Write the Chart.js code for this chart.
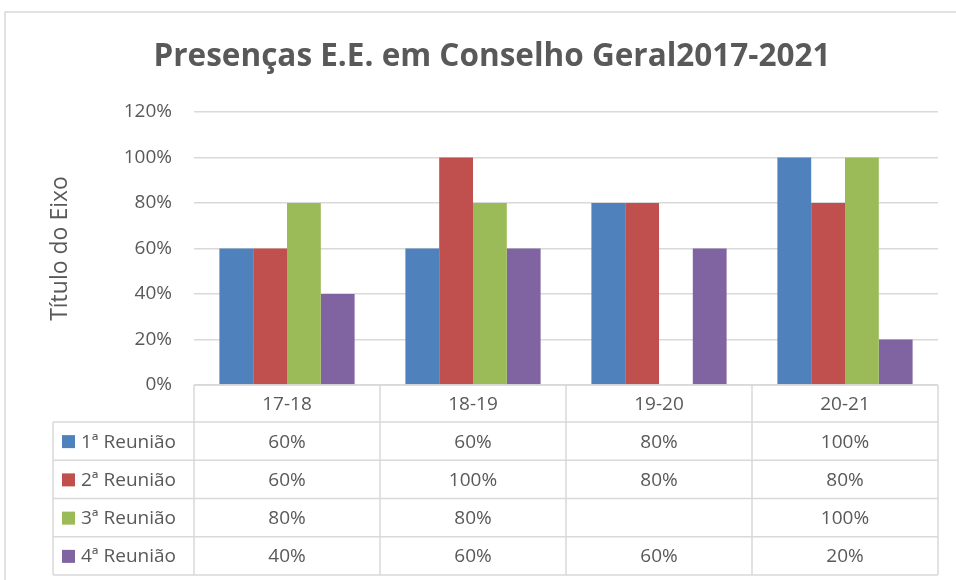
<!DOCTYPE html>
<html>
<head>
<meta charset="utf-8">
<script src="https://cdn.jsdelivr.net/npm/chart.js@4.4.1/dist/chart.umd.min.js"></script>
<style>
  html, body { margin: 0; padding: 0; background: #fff; }
  #wrap { position: relative; width: 956px; height: 580px; }
</style>
</head>
<body>
<div id="wrap"><canvas id="chart" width="956" height="580"></canvas></div>
<script>
// dados do gráfico
const categorias = ['17-18', '18-19', '19-20', '20-21'];
const reuniao1 = [60, 60, 80, 100];
const reuniao2 = [60, 100, 80, 80];
const reuniao3 = [80, 80, null, 100];
const reuniao4 = [40, 60, 60, 20];
const nomesSeries = ['1ª Reunião', '2ª Reunião', '3ª Reunião', '4ª Reunião'];
const coresSeries = ['#4F81BD', '#C0504D', '#9BBB59', '#8064A2'];
const ticksY = [0, 20, 40, 60, 80, 100, 120];

const corTexto = '#595959';
const corLinha = '#d9d9d9';
const fonte = '"Open Sans", "Liberation Sans", sans-serif';

// tabela de dados por baixo do gráfico
const tabelaPlugin = {
    id: 'tabela',
    beforeDraw(chart) {
        const ctx = chart.ctx;
        ctx.save();
        ctx.strokeStyle = corLinha;
        ctx.lineWidth = 1.5;
        ctx.strokeRect(5, 12, 1000, 700);
        ctx.restore();
    },
    afterDraw(chart) {
        const ctx = chart.ctx;
        const area = chart.chartArea;
        const x = chart.scales.x;
        const series = chart.data.datasets;
        const colW = (area.right - area.left) / categorias.length;
        const top = area.bottom;
        const headH = 37;
        const rowH = 38.25;
        const legLeft = 53;
        const bottom = top + headH + rowH * series.length;

        ctx.save();
        ctx.strokeStyle = corLinha;
        ctx.lineWidth = 1.5;
        ctx.beginPath();
        ctx.moveTo(area.left, top);
        ctx.lineTo(area.right, top);
        for (let r = 0; r <= series.length; r++) {
            const y = top + headH + r * rowH;
            ctx.moveTo(legLeft, y);
            ctx.lineTo(area.right, y);
        }
        for (let c = 0; c <= categorias.length; c++) {
            const xx = area.left + c * colW;
            ctx.moveTo(xx, top);
            ctx.lineTo(xx, bottom);
        }
        ctx.moveTo(legLeft, top + headH);
        ctx.lineTo(legLeft, bottom);
        ctx.stroke();

        ctx.fillStyle = corTexto;
        ctx.font = '19px ' + fonte;
        ctx.textAlign = 'center';
        ctx.textBaseline = 'middle';
        categorias.forEach((cat, i) => {
            ctx.fillText(cat, x.getPixelForValue(i), top + headH / 2 + 1);
        });

        series.forEach((ds, r) => {
            const yc = top + headH + r * rowH + rowH / 2 + 1;
            ctx.fillStyle = ds.backgroundColor;
            ctx.fillRect(legLeft + 9, yc - 7, 13, 13);
            ctx.fillStyle = corTexto;
            ctx.textAlign = 'left';
            ctx.fillText(ds.label, legLeft + 28, yc);
            ctx.textAlign = 'center';
            ds.data.forEach((v, i) => {
                if (v === null) return;
                ctx.fillText(v + '%', x.getPixelForValue(i), yc);
            });
        });
        ctx.restore();
    }
};

const serieDados = [reuniao1, reuniao2, reuniao3, reuniao4];

new Chart(document.getElementById('chart'), {
    type: 'bar',
    data: {
        labels: categorias,
        datasets: serieDados.map((d, i) => ({
            label: nomesSeries[i],
            data: d,
            backgroundColor: coresSeries[i],
            borderWidth: 0,
            categoryPercentage: 0.727,
            barPercentage: 1
        }))
    },
    options: {
        responsive: false,
        animation: false,
        events: [],
        layout: { padding: { top: 0, left: 46, right: 18, bottom: 195 } },
        plugins: {
            legend: { display: false },
            tooltip: { enabled: false },
            title: {
                display: true,
                text: 'Presenças E.E. em Conselho Geral2017-2021',
                color: corTexto,
                font: { family: fonte, size: 31.5, weight: 'bold', lineHeight: 1.2 },
                padding: { top: 38, bottom: 36.2 }
            }
        },
        scales: {
            x: { display: false },
            y: {
                min: 0,
                max: 120,
                afterFit(scale) { scale.width = 148; },
                afterBuildTicks(scale) { scale.ticks = ticksY.map(v => ({ value: v })); },
                ticks: {
                    color: corTexto,
                    font: { family: fonte, size: 19 },
                    padding: 22,
                    callback: v => v + '%'
                },
                grid: { color: corLinha, lineWidth: 1.5, drawTicks: false },
                border: { display: false },
                title: {
                    display: true,
                    text: 'Título do Eixo',
                    color: corTexto,
                    font: { family: fonte, size: 23 },
                    padding: { top: 1 }
                }
            }
        }
    },
    plugins: [tabelaPlugin]
});
</script>
</body>
</html>
